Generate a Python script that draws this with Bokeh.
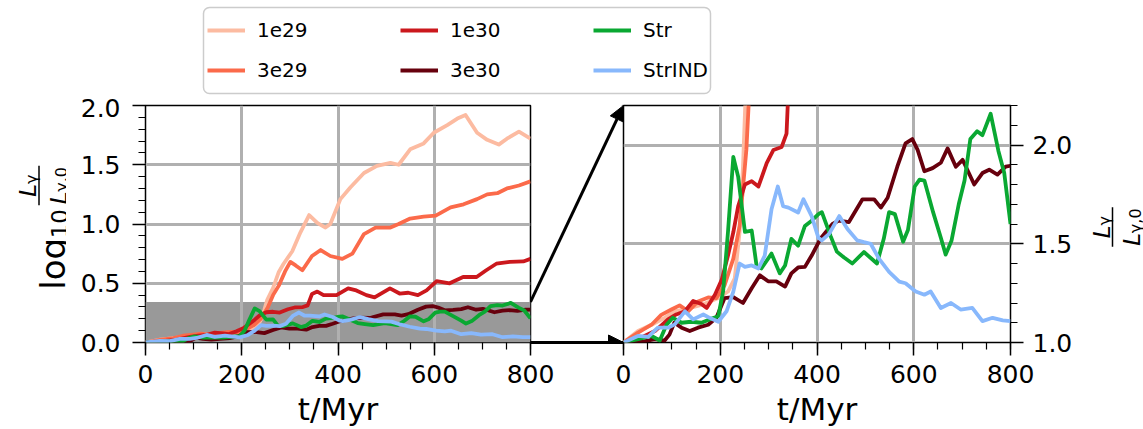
import numpy as np
from bokeh.plotting import figure
from bokeh.models import (Range1d, SingleIntervalTicker, FixedTicker, PrintfTickFormatter,
                          Legend, LegendItem, Arrow, NormalHead, Label)
from bokeh.layouts import row, column
from bokeh.embed import file_html
from bokeh.resources import INLINE

# ---------------- data: L_gamma / L_gamma,0 versus t [Myr] ----------------
series_names = ["1e29", "3e29", "1e30", "3e30", "Str", "StrIND"]
series_colors = ["#fcbba1", "#fb6a4a", "#cb181d", "#67000d", "#0aa832", "#88b8fc"]

t_1e29 = [0, 30, 58, 85, 106, 130, 161, 196, 216, 230, 240, 247, 253, 265, 277, 287, 305, 322, 340, 357,
          374, 384, 405, 426, 454, 481, 509, 526, 550, 578, 599, 627, 648, 665, 689, 710, 734, 751, 776, 800]
ratio_1e29 = [1.0, 1.058, 1.09, 1.125, 1.158, 1.17, 1.19, 1.225, 1.258, 1.325, 1.56, 1.89, 2.29, 2.88, 3.94,
              4.62, 5.89, 8.51, 11.89, 10.23, 9.33, 10.0, 16.22, 20.42, 26.92, 30.90, 32.73, 31.62, 42.66,
              47.86, 58.88, 68.39, 77.62, 83.18, 58.88, 51.29, 46.77, 52.48, 60.26, 52.48]

t_3e29 = [0, 30, 58, 78, 99, 116, 134, 154, 175, 192, 209, 227, 240, 254, 265, 277, 290, 301, 312, 326,
          346, 364, 384, 409, 430, 454, 478, 509, 526, 550, 578, 603, 634, 661, 689, 710, 731, 751, 776, 800]
ratio_3e29 = [1.0, 1.05, 1.09, 1.14, 1.167, 1.188, 1.158, 1.208, 1.228, 1.225, 1.29, 1.425, 1.59, 1.975, 2.51,
              3.02, 3.98, 4.79, 4.47, 4.07, 5.37, 6.03, 5.37, 5.08, 5.62, 8.22, 9.33, 9.33, 10.0, 11.12,
              11.56, 11.75, 13.80, 14.66, 16.22, 17.78, 18.20, 19.95, 21.13, 22.91]

t_1e30 = [0, 37, 65, 92, 109, 127, 144, 161, 172, 189, 203, 216, 227, 237, 251, 265, 279, 296, 310, 327,
          337, 346, 357, 370, 383, 397, 421, 438, 459, 476, 508, 528, 546, 566, 584, 605, 632, 660, 688, 708,
          729, 757, 785, 800]
ratio_1e30 = [1.0, 1.025, 1.058, 1.117, 1.142, 1.158, 1.21, 1.195, 1.175, 1.242, 1.317, 1.44, 1.558, 1.69,
              1.80, 1.817, 1.79, 1.908, 1.975, 1.99, 2.058, 2.57, 2.69, 2.51, 2.51, 2.51, 2.86, 2.75, 2.51,
              2.40, 2.86, 2.59, 2.63, 2.51, 2.75, 3.29, 3.16, 3.57, 3.57, 4.07, 4.62, 4.79, 4.83, 5.08]

t_3e30 = [0, 40, 65, 85, 95, 105, 120, 137, 154, 175, 192, 209, 227, 247, 265, 282, 299, 316, 334, 347,
          361, 375, 389, 407, 432, 445, 466, 494, 518, 532, 546, 566, 583, 597, 608, 622, 639, 656, 670, 687,
          701, 725, 742, 756, 773, 790, 800]
ratio_3e30 = [1.0, 1.005, 1.017, 1.01, 1.04, 1.10, 1.075, 1.058, 1.075, 1.09, 1.125, 1.225, 1.23, 1.20,
              1.275, 1.34, 1.31, 1.31, 1.283, 1.35, 1.38, 1.383, 1.44, 1.525, 1.60, 1.617, 1.61, 1.725,
              1.725, 1.683, 1.733, 1.89, 2.008, 2.03, 1.975, 1.867, 1.883, 1.91, 1.983, 1.89, 1.925, 1.80,
              1.858, 1.875, 1.85, 1.89, 1.895]

t_str = [0, 30, 58, 75, 89, 102, 120, 140, 161, 178, 196, 206, 216, 227, 237, 251, 265, 275, 285, 306,
         323, 334, 347, 361, 375, 389, 403, 410, 428, 441, 456, 473, 497, 524, 538, 549, 561, 578, 588, 602,
         612, 622, 640, 656, 666, 678, 693, 705, 717, 731, 742, 759, 775, 787, 800]
ratio_str = [1.0, 1.017, 1.033, 1.01, 1.09, 1.125, 1.10, 1.105, 1.10, 1.117, 1.133, 1.26, 1.56, 1.94, 1.84,
             1.56, 1.567, 1.39, 1.375, 1.45, 1.35, 1.39, 1.525, 1.49, 1.59, 1.617, 1.65, 1.66, 1.54, 1.46,
             1.43, 1.40, 1.458, 1.40, 1.525, 1.66, 1.65, 1.51, 1.57, 1.79, 1.825, 1.82, 1.66, 1.53, 1.445,
             1.515, 1.70, 1.82, 2.03, 2.07, 2.05, 2.158, 1.97, 1.86, 1.60]

t_strind = [0, 30, 51, 71, 92, 106, 127, 144, 165, 178, 196, 213, 227, 240, 251, 265, 279, 292, 306, 319,
            330, 341, 361, 372, 389, 403, 410, 425, 446, 463, 483, 497, 511, 528, 549, 570, 583, 604, 622,
            635, 656, 677, 697, 721, 742, 763, 784, 800]
ratio_strind = [1.0, 1.033, 1.028, 1.075, 1.075, 1.092, 1.158, 1.117, 1.142, 1.125, 1.105, 1.158, 1.258,
                1.40, 1.383, 1.39, 1.375, 1.44, 1.675, 1.79, 1.69, 1.683, 1.658, 1.725, 1.64, 1.53, 1.517,
                1.55, 1.64, 1.575, 1.517, 1.508, 1.50, 1.425, 1.358, 1.308, 1.30, 1.258, 1.242, 1.258,
                1.175, 1.20, 1.167, 1.175, 1.108, 1.125, 1.112, 1.108]

series_t = [t_1e29, t_3e29, t_1e30, t_3e30, t_str, t_strind]
series_ratio = [ratio_1e29, ratio_3e29, ratio_1e30, ratio_3e30, ratio_str, ratio_strind]

T_MAX = 800
LOG_MAX = 2.0
ZOOM_MIN, ZOOM_MAX = 1.0, 2.2
X_LABEL = "t/Myr"

# ---------------- layout / style constants (page pixels) ----------------
FONT = "DejaVu Sans"
GRID = "#b0b0b0"
TOTAL_W = 1143
LEG_H = 98
FRAME_H = 240
B_TOP = 7
B_BOT = 84
ROW_H = B_TOP + FRAME_H + B_BOT
FRAME_BOTTOM_PAGE = LEG_H + B_TOP + FRAME_H
W_LAB_L = 66
LEFT_BL, LEFT_FW, LEFT_BR = 79, 385, 30
MID_W = 93
RIGHT_BL, RIGHT_FW, RIGHT_BR = 23, 387, 68
W_LAB_R = TOTAL_W - (W_LAB_L + LEFT_BL + LEFT_FW + MID_W + RIGHT_FW + RIGHT_BR)
LAB_R_X0 = TOTAL_W - W_LAB_R
LINE_W = 3.8


def base_fig(width, height, **kw):
    p = figure(width=width, height=height, output_backend="svg", toolbar_location=None,
               title=None, **kw)
    p.border_fill_alpha = 0
    return p


def style_axes(p, y_standoff):
    for ax in p.axis:
        ax.axis_line_color = None
        ax.major_tick_out = 13
        ax.major_tick_in = 0
        ax.minor_tick_out = 7
        ax.minor_tick_in = 0
        ax.major_tick_line_color = "black"
        ax.minor_tick_line_color = "black"
        ax.major_tick_line_width = 1.5
        ax.minor_tick_line_width = 1.2
        ax.major_label_text_font = FONT
        ax.major_label_text_font_size = "25px"
        ax.major_label_text_color = "black"
        ax.axis_label_text_font = FONT
        ax.axis_label_text_font_size = "31px"
        ax.axis_label_text_font_style = "normal"
        ax.axis_label_text_color = "black"
    for ax in p.xaxis:
        ax.ticker = SingleIntervalTicker(interval=200, num_minor_ticks=4)
        ax.major_label_standoff = 9
        ax.axis_label = X_LABEL
        ax.axis_label_standoff = 5
    for ax in p.yaxis:
        ax.ticker = SingleIntervalTicker(interval=0.5, num_minor_ticks=5)
        ax.formatter = PrintfTickFormatter(format="%.1f")
        ax.major_label_standoff = y_standoff
    p.outline_line_color = "black"
    p.outline_line_width = 1.5
    p.xgrid.grid_line_color = GRID
    p.ygrid.grid_line_color = GRID
    p.xgrid.grid_line_width = 3
    p.ygrid.grid_line_width = 3


# ---------------- left panel: log10 ----------------
left = base_fig(LEFT_BL + LEFT_FW + LEFT_BR, ROW_H, x_range=Range1d(0, T_MAX), y_range=Range1d(0, LOG_MAX),
                min_border_left=LEFT_BL, min_border_right=LEFT_BR, min_border_top=B_TOP,
                min_border_bottom=B_BOT)
style_axes(left, 12)
left.quad(left=0, right=T_MAX, bottom=0, top=np.log10(ZOOM_MAX), fill_color="#999999",
          line_color=None, level="image")

# ---------------- right panel: linear zoom ----------------
right = base_fig(RIGHT_BL + RIGHT_FW + RIGHT_BR, ROW_H, x_range=Range1d(0, T_MAX),
                 y_range=Range1d(ZOOM_MIN, ZOOM_MAX), y_axis_location="right",
                 min_border_left=RIGHT_BL, min_border_right=RIGHT_BR, min_border_top=B_TOP,
                 min_border_bottom=B_BOT)
style_axes(right, 9)

for t, r, c in zip(series_t, series_ratio, series_colors):
    left.line(t, np.log10(r), line_color=c, line_width=LINE_W, line_join="round")
    right.line(t, r, line_color=c, line_width=LINE_W, line_join="round")

# ---------------- middle: zoom arrows (frame aligned with the panels) ----------------
mid = base_fig(MID_W, ROW_H, x_range=Range1d(0, 1), y_range=Range1d(0, LOG_MAX),
               x_axis_location="below", y_axis_location=None, min_border_left=0, min_border_right=0,
               min_border_top=B_TOP, min_border_bottom=B_BOT)
mid.grid.visible = False
mid.outline_line_color = None
mid.background_fill_alpha = 0
mid.xaxis.ticker = FixedTicker(ticks=[])
mid.xaxis.axis_line_width = 3
mid.xaxis.axis_line_color = "black"
mid.xaxis.major_tick_out = 0
mid.xaxis.minor_tick_out = 0
mid.margin = (0, -RIGHT_BL, 0, -LEFT_BR)
mid.add_layout(Arrow(end=NormalHead(size=15, fill_color="black", line_color="black"),
                     x_start=0, y_start=np.log10(ZOOM_MAX), x_end=1, y_end=LOG_MAX,
                     line_width=3, line_color="black"))
mid.add_layout(Arrow(end=NormalHead(size=15, fill_color="black", line_color="black"),
                     x_start=0, y_start=0, x_end=1, y_end=0, line_width=3, line_color="black"))


# ---------------- y-axis labels (math-like, built from rotated text) ----------------
def label_fig(w):
    f = base_fig(w, ROW_H, x_range=Range1d(0, w), y_range=Range1d(0, FRAME_H),
                 x_axis_location=None, y_axis_location=None, min_border_left=0, min_border_right=0,
                 min_border_top=B_TOP, min_border_bottom=B_BOT)
    f.grid.visible = False
    f.outline_line_color = None
    f.background_fill_alpha = 0
    return f


# advance widths (em) of DejaVu Sans strings used below
EM = {"log": 1.525, "10": 1.272, "L": 0.557, "γ": 0.592, "γ,0": 1.546}


def rtext(f, x, page_start_y, s, size, italic=False):
    """Text rotated 90 deg, reading upwards, starting at page_start_y (anchored at its end)."""
    end_y = page_start_y - EM[s] * size
    f.add_layout(Label(x=x, y=FRAME_BOTTOM_PAGE - end_y, text=s, angle=np.pi / 2, text_font=FONT,
                       text_font_size=f"{size}px", text_font_style="italic" if italic else "normal",
                       text_align="right", text_baseline="alphabetic", text_color="black"))
    return end_y


def fraction(f, x0, page_bar_x, page_cy, big=23, small=16):
    fx = page_bar_x - x0
    num_w = EM["L"] * big + EM["γ"] * small
    den_w = EM["L"] * big + EM["γ,0"] * small
    y = rtext(f, fx - 11, page_cy + num_w / 2, "L", big, italic=True)
    rtext(f, fx - 8, y, "γ", small)
    fy = FRAME_BOTTOM_PAGE - page_cy
    f.segment(x0=[fx], y0=[fy - 20], x1=[fx], y1=[fy + 20], line_color="black", line_width=1.5)
    y = rtext(f, fx + 19.5, page_cy + den_w / 2, "L", big, italic=True)
    rtext(f, fx + 22.5, y, "γ,0", small)


lab_l = label_fig(W_LAB_L)
y_end = rtext(lab_l, 52, 291, "log", 34)
rtext(lab_l, 59, y_end, "10", 23)
fraction(lab_l, 0, 38.5, 186)

lab_r = label_fig(W_LAB_R)
fraction(lab_r, LAB_R_X0, 1112, 228)

# ---------------- legend ----------------
leg = base_fig(TOTAL_W, LEG_H, x_range=Range1d(0, TOTAL_W), y_range=Range1d(0, LEG_H),
               x_axis_location=None, y_axis_location=None, min_border=0)
leg.grid.visible = False
leg.outline_line_color = None
leg.background_fill_alpha = 0
leg.quad(left=203, right=710, bottom=LEG_H - 93, top=LEG_H - 7, fill_color="white", line_color="#cccccc",
         line_width=1.5, border_radius=6)
col_x = [207, 400, 593]
for ci in range(3):
    items = []
    for k in (2 * ci, 2 * ci + 1):
        r = leg.line(x=[np.nan], y=[np.nan], line_color=series_colors[k], line_width=LINE_W)
        items.append(LegendItem(label=series_names[k], renderers=[r]))
    lg = Legend(items=items, location=(col_x[ci], 13), orientation="vertical",
                glyph_width=38, glyph_height=30, label_standoff=12, spacing=10, padding=0, margin=0,
                border_line_alpha=0, background_fill_alpha=0, label_text_font=FONT,
                label_text_font_size="20px", label_text_color="black")
    leg.add_layout(lg)

layout = column(leg, row(lab_l, left, mid, right, lab_r))
open("out.html", "w").write(file_html(layout, INLINE))
